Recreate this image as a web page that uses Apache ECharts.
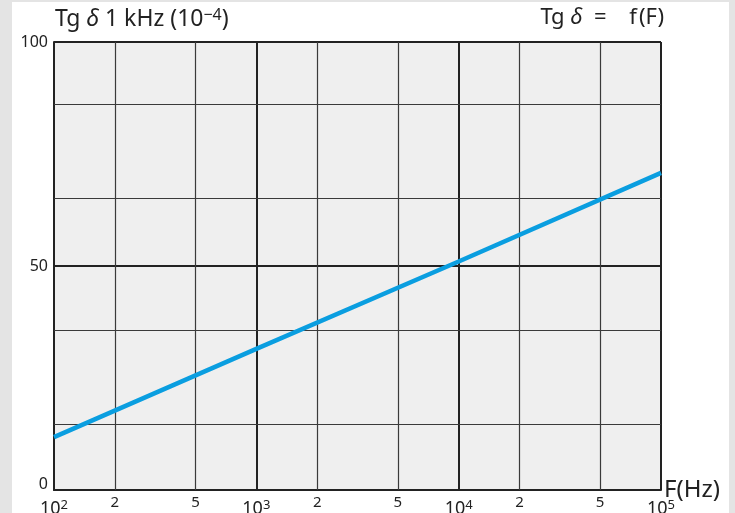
<!DOCTYPE html>
<html><head><meta charset="utf-8">
<script src="https://cdn.jsdelivr.net/npm/echarts@6/dist/echarts.min.js"></script>
<style>html,body{margin:0;padding:0;background:#e4e4e4}#c{width:735px;height:513px}</style>
</head><body><div id="c"></div>
<script>
// Data
const freqHz = [100, 1000, 10000, 100000];
const tgDelta = [11.8, 31.5, 51, 70.8];
const minorFreqs = [200, 500, 2000, 5000, 20000, 50000];
const minorFreqLabels = ['2', '5', '2', '5', '2', '5'];
const minorTg = [14.7, 35.7, 65.2, 86.2];
const yTicks = [0, 50, 100];
const xName = 'F(Hz)';

const FONT = 'Noto Sans';
const chart = echarts.init(document.getElementById('c'), null, {renderer: 'canvas'});
const option = {
  backgroundColor: '#e4e4e4',
  animation: false,
  textStyle: {fontFamily: FONT, color: '#222'},
  graphic: [
    {type: 'rect', z: -10, silent: true, shape: {x: 12, y: 2, width: 717, height: 520}, style: {fill: '#ffffff'}},
    {type: 'text', left: 55, top: 7, style: {text: 'Tg {i|δ} 1 kHz (10{s|−4})', fontFamily: FONT, fontSize: 23, fill: '#222',
      rich: {i: {fontStyle: 'italic', fontSize: 23, fontFamily: FONT}, s: {fontSize: 16, verticalAlign: 'top', fontFamily: FONT, padding: [0,0,9,0]}}}},
    {type: 'text', right: 71, top: 7, style: {text: 'Tg {i|δ}  =    f{p|(F)}', fontFamily: FONT, fontSize: 22, fill: '#222',
      rich: {i: {fontStyle: 'italic', fontSize: 22, fontFamily: FONT}, p: {fontSize: 22, fontFamily: FONT, padding: [0,0,0,2]}}}}
  ],
  grid: {left: 54, right: 74, top: 42, bottom: 23, show: true, backgroundColor: '#efefef', borderWidth: 0, outerBoundsMode: 'none', containLabel: false},
  xAxis: {
    type: 'log', logBase: 10, min: 100, max: 100000,
    name: xName, nameLocation: 'end', nameGap: 3, nameMoveOverlap: false,
    nameTextStyle: {fontSize: 24, color: '#222', fontFamily: FONT, verticalAlign: 'middle', padding: [8,0,0,0]},
    axisLine: {show: true, lineStyle: {color: '#222', width: 2}},
    axisTick: {show: false},
    splitLine: {show: true, lineStyle: {color: '#222', width: 2}},
    axisLabel: {
      margin: 9, color: '#222',
      formatter: v => '{a|10}{b|' + Math.round(Math.log10(v)) + '}',
      rich: {a: {fontSize: 18, fontFamily: FONT, color: '#222'}, b: {fontSize: 13, fontFamily: FONT, color: '#222', verticalAlign: 'top', padding: [0,0,7,0]}}
    }
  },
  yAxis: {
    type: 'value', min: 0, max: 100, interval: 50,
    axisLine: {show: true, lineStyle: {color: '#222', width: 2}},
    axisTick: {show: false},
    splitLine: {show: true, lineStyle: {color: '#222', width: 2}},
    axisLabel: {
      margin: 6, fontSize: 16, color: '#222', fontFamily: FONT,
      formatter: v => v === 0 ? '{z|0}' : String(v),
      rich: {z: {fontSize: 16, fontFamily: FONT, color: '#222', padding: [0,0,12,0]}}
    }
  },
  series: [
    {
      type: 'line', data: [], z: 1, silent: true,
      markLine: {
        silent: true, symbol: 'none', animation: false,
        lineStyle: {color: '#3a3a3a', width: 1.2, type: 'solid'},
        data: minorFreqs.map((f, i) => ({xAxis: f, label: {show: true, formatter: minorFreqLabels[i]}}))
          .concat(minorTg.map(t => ({yAxis: t, label: {show: false}}))),
        label: {show: true, position: 'start', distance: 5, fontSize: 15, color: '#222', fontFamily: FONT}
      }
    },
    {
      type: 'line', z: 5, silent: true, symbol: 'none',
      data: freqHz.map((f, i) => [f, tgDelta[i]]),
      lineStyle: {color: '#0a9ee0', width: 4.5}
    }
  ]
};
chart.setOption(option);
</script></body></html>
